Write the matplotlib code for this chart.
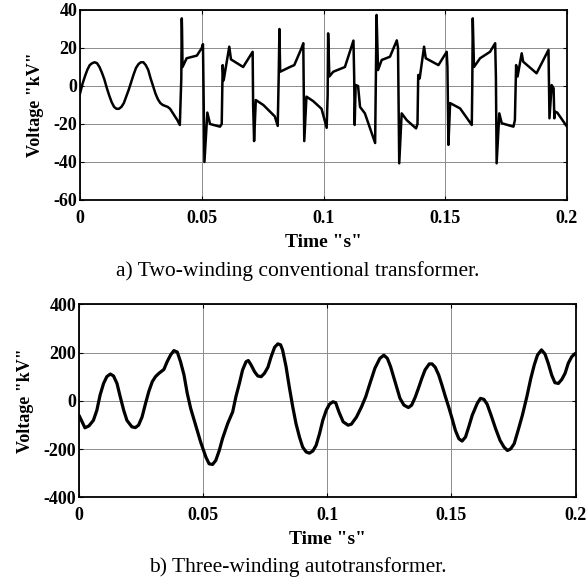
import matplotlib
matplotlib.use("Agg")
import matplotlib.pyplot as plt

# ---- data: panel a (two-winding conventional transformer) ----
t_a = [0, 0.001, 0.002, 0.003, 0.004, 0.005, 0.006, 0.007, 0.008, 0.009, 0.010,
       0.011, 0.012, 0.013, 0.014, 0.015, 0.016, 0.017, 0.018, 0.019, 0.020,
       0.021, 0.022, 0.023, 0.024, 0.025, 0.026, 0.027, 0.028, 0.029, 0.030,
       0.031, 0.032, 0.033, 0.034, 0.035, 0.036, 0.037, 0.038, 0.039, 0.040, 0.041,
       0.0416, 0.0418, 0.0419, 0.0421, 0.0438, 0.048, 0.0500, 0.0505, 0.0509, 0.0511,
       0.0523, 0.0534, 0.0575, 0.0582, 0.0586, 0.0590, 0.0613, 0.0620, 0.0670, 0.0709,
       0.0711, 0.0715, 0.0722, 0.0753, 0.0800, 0.0812, 0.0816, 0.0819, 0.0822,
       0.0862, 0.0880, 0.0910, 0.0917, 0.0919, 0.0921, 0.0930, 0.0958, 0.0992, 0.1013,
       0.1017, 0.1019, 0.1024, 0.1040, 0.1088, 0.1123, 0.1126, 0.1128, 0.1132, 0.1142,
       0.1150, 0.1170, 0.1212, 0.1215, 0.1218, 0.1224, 0.1239, 0.1273, 0.1301, 0.1306,
       0.1311, 0.1321, 0.1342, 0.1380, 0.1386, 0.1389, 0.1395, 0.1413, 0.1420, 0.1472,
       0.1506, 0.1509, 0.1513, 0.1520, 0.1561, 0.1609, 0.1611, 0.1613, 0.1618, 0.1643,
       0.1684, 0.1705, 0.1708, 0.1711, 0.1722, 0.1732, 0.1780, 0.1786, 0.1791, 0.1797,
       0.1814, 0.1820, 0.1875, 0.1924, 0.1926, 0.1928, 0.1937, 0.1945, 0.1948, 0.1950,
       0.1960, 0.2000]
v_a = [-4, 1, 5, 8.5, 11, 12, 12.5, 12, 10, 7, 3.5,
       -1, -5, -8.5, -11, -12, -12, -11, -9, -5.5, -2,
       2, 6, 9.5, 11.5, 12.5, 12.5, 11, 8.5, 4, 0,
       -4, -7, -9, -10, -10.5, -11, -12, -14, -16, -18, -20.5,
       4, 35.6, 30, 10, 14.6, 16, 20, 22, -20, -40,
       -14, -20, -21.4, -20, 11, 3, 20.7, 14, 10, 18,
       -10, -29, -7.4, -10, -16, -21, 5, 30, 7.5,
       10, 11, 20, 22.5, -5, -29, -5.6, -8, -12, -22,
       -5, 27.7, 5, 7.5, 10, 23.9, 5, -20.5, 0.5, 0,
       -11, -14.4, -30, 5, 37.4, 8.4, 13.7, 15.4, 24, 20,
       -40.7, -14.4, -18, -22.3, -20, 5.8, 4, 20.7, 14.6, 11,
       18, 10, -31, -9, -11.8, -20.5, 0, 35.6, 10, 14.6,
       18, 22.5, 5, -40.7, -14.4, -19.6, -21.4, -18, 11, 5,
       17.2, 12.8, 6.7, 19, 0, -17, 0.5, -1.2, -17, -13.5,
       -14, -21.4]

# ---- data: panel b (three-winding autotransformer) ----
t_b = [0, 0.0024, 0.0040, 0.0058, 0.0072, 0.0085, 0.0099, 0.0112, 0.0126, 0.0139,
       0.0153, 0.0166, 0.0180, 0.0193, 0.0213, 0.0227, 0.0240, 0.0254, 0.0268, 0.0281,
       0.0295, 0.0308, 0.0322, 0.0342, 0.0355, 0.0369, 0.0382, 0.0396, 0.0409, 0.0423,
       0.0436, 0.0450, 0.0470, 0.0490, 0.0511, 0.0524, 0.0538, 0.0551, 0.0565, 0.0578,
       0.0599, 0.0619, 0.0632, 0.0646, 0.0659, 0.0673, 0.0682, 0.0693, 0.0707, 0.0720,
       0.0734, 0.0747, 0.0761, 0.0774, 0.0788, 0.0801, 0.0812, 0.0820, 0.0834, 0.0847,
       0.0861, 0.0874, 0.0888, 0.0901, 0.0915, 0.0928, 0.0942, 0.0955, 0.0969, 0.0982,
       0.0996, 0.1009, 0.1023, 0.1034, 0.1047, 0.1064, 0.1084, 0.1097, 0.1118, 0.1138,
       0.1155, 0.1172, 0.1192, 0.1212, 0.1228, 0.1242, 0.1255, 0.1273, 0.1293, 0.1309,
       0.1327, 0.1340, 0.1354, 0.1367, 0.1381, 0.1394, 0.1411, 0.1422, 0.1435, 0.1449,
       0.1462, 0.1476, 0.1489, 0.1503, 0.1516, 0.1530, 0.1543, 0.1557, 0.1570, 0.1584,
       0.1604, 0.1617, 0.1631, 0.1644, 0.1660, 0.1678, 0.1696, 0.1712, 0.1726, 0.1739,
       0.1753, 0.1769, 0.1786, 0.1804, 0.1820, 0.1834, 0.1847, 0.1863, 0.1877, 0.1890,
       0.1904, 0.1917, 0.1931, 0.1945, 0.1958, 0.1971, 0.1985, 0.2000]
v_b = [-60, -112, -104, -81, -39, 24, 72, 100, 111, 103,
       72, 17, -39, -81, -108, -111, -101, -67, -11, 38,
       79, 100, 114, 130, 162, 190, 208, 202, 162, 107,
       31, -32, -101, -171, -233, -261, -264, -247, -206, -157,
       -94, -46, 17, 72, 128, 162, 167, 149, 121, 103,
       100, 114, 139, 183, 222, 236, 232, 211, 142, 58,
       -25, -94, -150, -192, -212, -217, -208, -185, -136, -81,
       -39, -14, -4, -8, -46, -87, -101, -97, -67, -25,
       17, 72, 135, 176, 189, 176, 142, 79, 10, -18,
       -28, -18, 14, 51, 93, 128, 153, 153, 139, 107,
       65, 17, -25, -74, -122, -157, -167, -150, -108, -60,
       -11, 10, 6, -14, -60, -115, -164, -192, -206, -199,
       -178, -122, -60, 17, 93, 149, 190, 211, 194, 156,
       107, 75, 72, 89, 114, 156, 183, 197]

x_ticks = [0, 0.05, 0.1, 0.15, 0.2]
x_tick_labels = ["0", "0.05", "0.1", "0.15", "0.2"]
y_ticks_a = [-60, -40, -20, 0, 20, 40]
y_ticks_b = [-400, -200, 0, 200, 400]

ylabel = 'Voltage "kV"'
xlabel = 'Time "s"'
caption_a = "a) Two-winding conventional transformer."
caption_b = "b) Three-winding autotransformer."

plt.rcParams["font.family"] = ["Liberation Serif", "DejaVu Serif"]

W, H = 587, 581
fig = plt.figure(figsize=(W / 100, H / 100), dpi=100)
ax1 = fig.add_axes([80 / W, 1 - 200 / H, 487 / W, 190 / H])
ax2 = fig.add_axes([79 / W, 1 - 497.3 / H, 496.5 / W, 193 / H])


def style(ax, yticks):
    ax.set_xlim(0, 0.2)
    ax.set_ylim(yticks[0], yticks[-1])
    ax.set_xticks(x_ticks)
    ax.set_xticklabels(x_tick_labels)
    ax.set_yticks(yticks)
    ax.set_yticklabels([str(v) for v in yticks])
    ax.grid(True, color="#8c8c8c", linewidth=0.7, linestyle="-")
    ax.set_axisbelow(True)
    ax.tick_params(direction="in", length=3, width=0.8, top=True, right=True,
                   labelsize=13)
    ax.tick_params(axis="x", pad=7)
    ax.tick_params(axis="y", pad=2)
    for lab in ax.get_xticklabels() + ax.get_yticklabels():
        lab.set_fontweight("bold")
    for sp in ax.spines.values():
        sp.set_linewidth(1.3)
        sp.set_color("black")
    ax.set_xlabel(xlabel, fontsize=14, fontweight="bold", labelpad=5)
    ax.set_ylabel(ylabel, fontsize=13, fontweight="bold", labelpad=7)


ax1.plot(t_a, v_a, color="black", linewidth=1.8, solid_joinstyle="round")
style(ax1, y_ticks_a)
ax2.plot(t_b, v_b, color="black", linewidth=2.3, solid_joinstyle="round",
         solid_capstyle="round")
style(ax2, y_ticks_b)

fig.text(298 / W, 1 - 271 / H, caption_a, ha="center", va="center", fontsize=15.5)
fig.text(298 / W, 1 - 567 / H, caption_b, ha="center", va="center", fontsize=15.5)

fig.savefig("out.png", dpi=100)
